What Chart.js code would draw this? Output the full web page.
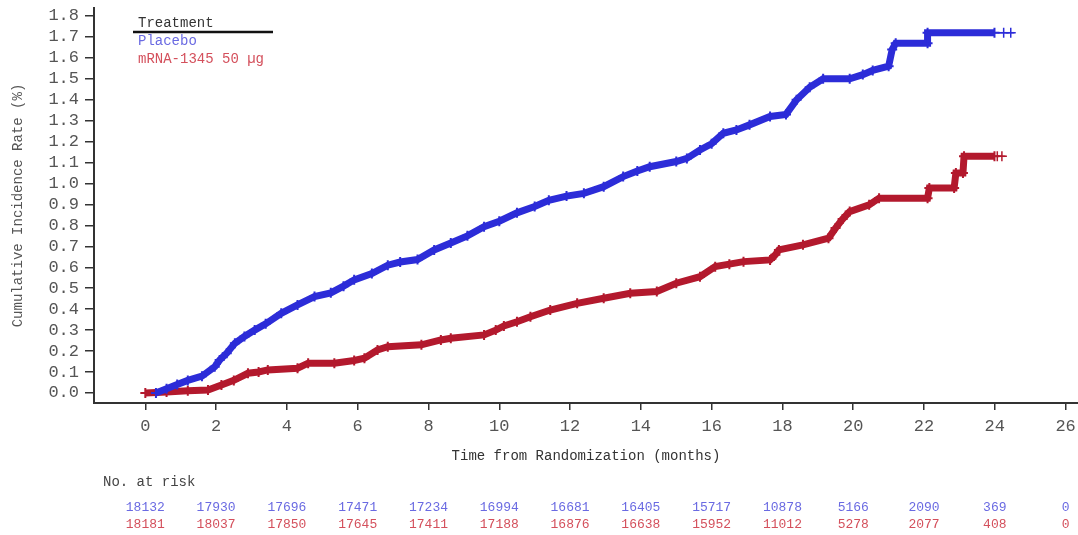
<!DOCTYPE html>
<html>
<head>
<meta charset="utf-8">
<script src="https://cdn.jsdelivr.net/npm/chart.js@4.4.1/dist/chart.umd.min.js"></script>
<style>
  html, body { margin: 0; padding: 0; background: #fff; }
  #wrap { width: 1078px; height: 535px; position: relative; }
</style>
</head>
<body>
<div id="wrap"><canvas id="kmChart"></canvas></div>
<script>
// Axis ticks
const xTicks = [0, 2, 4, 6, 8, 10, 12, 14, 16, 18, 20, 22, 24, 26];
const yTicks = [0.0, 0.1, 0.2, 0.3, 0.4, 0.5, 0.6, 0.7, 0.8, 0.9, 1.0, 1.1, 1.2, 1.3, 1.4, 1.5, 1.6, 1.7, 1.8];

// Placebo curve (months, cumulative incidence %)
const placeboMonths = [0.3, 0.6, 0.9, 1.2, 1.6, 1.96, 2.1, 2.3, 2.53, 2.8, 3.09, 3.4, 3.84, 4.3, 4.78,
  5.24, 5.6, 5.9, 6.4, 6.85, 7.2, 7.69, 8.16, 8.63, 9.1, 9.57, 10.0, 10.5, 11.0, 11.4,
  11.9, 12.39, 12.95, 13.5, 13.9, 14.25, 15.0, 15.3, 15.67, 16.0, 16.33, 16.7, 17.07, 17.65, 18.1,
  18.4, 18.77, 19.15, 19.9, 20.27, 20.55, 21.0, 21.1, 21.2, 22.1, 22.1, 23.99];
const placeboRates = [0, 0.02, 0.04, 0.06, 0.08, 0.125, 0.157, 0.19, 0.237, 0.27, 0.30, 0.33, 0.38, 0.42, 0.46,
  0.478, 0.51, 0.54, 0.57, 0.61, 0.625, 0.637, 0.683, 0.716, 0.75, 0.794, 0.82, 0.86, 0.89, 0.92,
  0.94, 0.953, 0.985, 1.033, 1.06, 1.08, 1.105, 1.12, 1.16, 1.19, 1.24, 1.256, 1.28, 1.32, 1.33,
  1.40, 1.46, 1.50, 1.50, 1.52, 1.54, 1.56, 1.64, 1.67, 1.67, 1.72, 1.72];
const placeboTailMonths = [23.99, 24.25, 24.45, 24.55];
const placeboTailRates = [1.72, 1.72, 1.72, 1.72];

// mRNA-1345 curve
const mrnaMonths = [0, 0.6, 1.2, 1.77, 2.15, 2.5, 2.9, 3.2, 3.46, 4.3, 4.6, 5.34, 5.9, 6.19, 6.56,
  6.85, 7.8, 8.35, 8.63, 9.57, 9.9, 10.13, 10.5, 10.88, 11.44, 12.2, 12.95, 13.7, 14.45, 15.0,
  15.67, 16.1, 16.5, 16.9, 17.65, 17.8, 17.9, 18.58, 19.3, 19.5, 19.7, 19.9, 20.45, 20.73, 22.1,
  22.15, 22.85, 22.9, 23.1, 23.13, 23.99];
const mrnaRates = [0, 0.005, 0.01, 0.014, 0.038, 0.06, 0.094, 0.10, 0.11, 0.118, 0.142, 0.142, 0.155, 0.166, 0.205,
  0.221, 0.23, 0.253, 0.261, 0.277, 0.30, 0.32, 0.34, 0.364, 0.396, 0.428, 0.452, 0.476, 0.484, 0.524,
  0.555, 0.603, 0.615, 0.627, 0.635, 0.66, 0.683, 0.707, 0.739, 0.787, 0.83, 0.866, 0.898, 0.93, 0.93,
  0.978, 0.978, 1.05, 1.05, 1.13, 1.13];
const mrnaTailMonths = [23.99, 24.07, 24.2, 24.3];
const mrnaTailRates = [1.13, 1.13, 1.13, 1.13];

// Number at risk (at each x tick)
const placeboAtRisk = [18132, 17930, 17696, 17471, 17234, 16994, 16681, 16405, 15717, 10878, 5166, 2090, 369, 0];
const mrnaAtRisk = [18181, 18037, 17850, 17645, 17411, 17188, 16876, 16638, 15952, 11012, 5278, 2077, 408, 0];

const FONT = "'Liberation Mono', 'Courier New', monospace";
const BLUE = '#2c2cd8';
const RED = '#b3192d';
const BLUE_TXT = '#6a6ae2';
const RED_TXT = '#d4505c';

function toPoints(xs, ys) {
  return xs.map((x, i) => ({ x: x, y: ys[i] }));
}

function bandDataset(xs, ys, color) {
  return {
    data: toPoints(xs, ys),
    borderColor: color,
    backgroundColor: color,
    borderWidth: 7,
    borderJoinStyle: 'miter',
    pointStyle: 'cross',
    pointRadius: 5,
    pointBorderWidth: 2,
    pointBorderColor: color,
    tension: 0
  };
}

function tailDataset(xs, ys, color) {
  return {
    data: toPoints(xs, ys),
    borderColor: color,
    backgroundColor: color,
    borderWidth: 1.5,
    pointStyle: 'cross',
    pointRadius: [0, 5, 5, 0],
    pointBorderWidth: 1.5,
    pointBorderColor: color,
    tension: 0
  };
}

// Legend box and risk table drawn onto the canvas
const annotations = {
  id: 'annotations',
  afterDraw(chart) {
    const ctx = chart.ctx;
    const xs = chart.scales.x;
    ctx.save();
    ctx.font = '14px ' + FONT;
    ctx.textAlign = 'left';
    ctx.textBaseline = 'middle';
    ctx.fillStyle = '#333';
    ctx.fillText('Treatment', 138, 23);
    ctx.strokeStyle = '#111';
    ctx.lineWidth = 2.5;
    ctx.beginPath();
    ctx.moveTo(133, 32);
    ctx.lineTo(273, 32);
    ctx.stroke();
    ctx.fillStyle = BLUE_TXT;
    ctx.fillText('Placebo', 138, 41);
    ctx.fillStyle = RED_TXT;
    ctx.fillText('mRNA-1345 50 µg', 138, 59);

    ctx.fillStyle = '#444';
    ctx.fillText('No. at risk', 103, 482);
    ctx.font = '13px ' + FONT;
    ctx.textAlign = 'center';
    xTicks.forEach((m, i) => {
      const px = xs.getPixelForValue(m);
      ctx.fillStyle = BLUE_TXT;
      ctx.fillText(String(placeboAtRisk[i]), px, 508);
      ctx.fillStyle = RED_TXT;
      ctx.fillText(String(mrnaAtRisk[i]), px, 525);
    });
    ctx.restore();
  }
};

const ctx = document.getElementById('kmChart').getContext('2d');
new Chart(ctx, {
  type: 'line',
  data: {
    datasets: [
      bandDataset(placeboMonths, placeboRates, BLUE),
      tailDataset(placeboTailMonths, placeboTailRates, BLUE),
      bandDataset(mrnaMonths, mrnaRates, RED),
      tailDataset(mrnaTailMonths, mrnaTailRates, RED)
    ]
  },
  options: {
    responsive: true,
    maintainAspectRatio: false,
    animation: false,
    layout: { autoPadding: false, padding: { top: 8, right: 0, bottom: 70, left: 0 } },
    plugins: {
      legend: { display: false },
      tooltip: { enabled: false }
    },
    scales: {
      x: {
        type: 'linear',
        min: -1.45,
        max: 26.35,
        afterBuildTicks: (scale) => { scale.ticks = xTicks.map(v => ({ value: v })); },
        afterFit: (scale) => {
          scale.height = 62;
          scale.paddingLeft = 0;
          scale.paddingRight = 0;
        },
        grid: { drawOnChartArea: false, tickLength: 7, color: '#333', lineWidth: 1.5 },
        border: { color: '#333', width: 2 },
        ticks: {
          color: '#555',
          padding: 6,
          maxRotation: 0,
          autoSkip: false,
          font: { family: FONT, size: 17 }
        },
        title: {
          display: true,
          text: 'Time from Randomization (months)',
          color: '#333',
          padding: { top: 0, bottom: 0 },
          font: { family: FONT, size: 14 }
        }
      },
      y: {
        min: -0.048,
        max: 1.838,
        afterBuildTicks: (scale) => { scale.ticks = yTicks.map(v => ({ value: v })); },
        afterFit: (scale) => {
          scale.width = 94;
          scale.paddingTop = 0;
          scale.paddingBottom = 0;
        },
        grid: { drawOnChartArea: false, tickLength: 9, color: '#333', lineWidth: 1.5 },
        border: { color: '#333', width: 2 },
        ticks: {
          color: '#555',
          padding: 6,
          autoSkip: false,
          font: { family: FONT, size: 17 },
          callback: (v) => Number(v).toFixed(1)
        },
        title: {
          display: true,
          text: 'Cumulative Incidence Rate (%)',
          color: '#555',
          padding: { top: 10, bottom: 0 },
          font: { family: FONT, size: 14 }
        }
      }
    }
  },
  plugins: [annotations]
});
</script>
</body>
</html>
